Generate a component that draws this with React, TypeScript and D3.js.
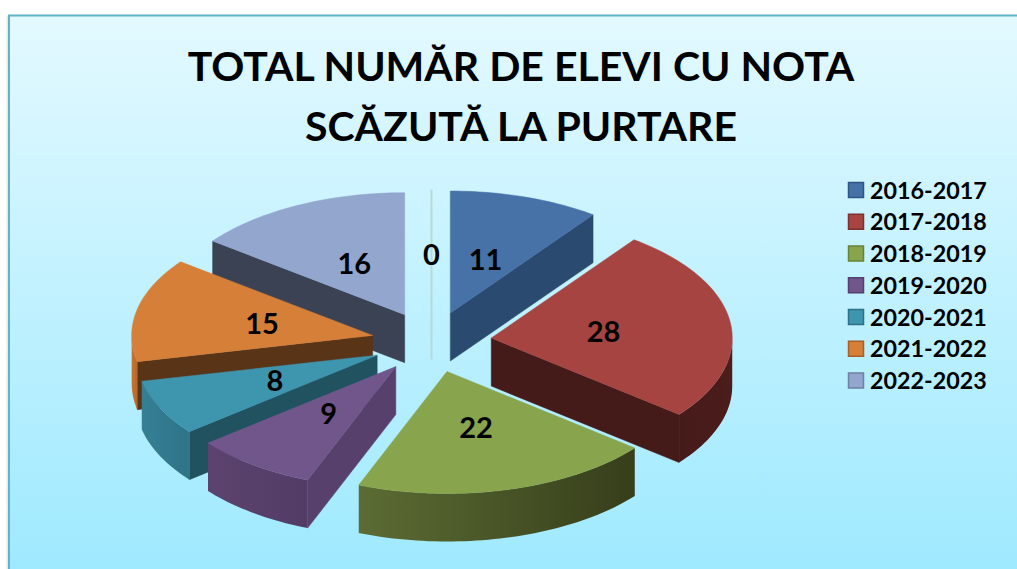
import React from "react";
import * as d3 from "d3";

const titleLines = ["TOTAL NUMĂR DE ELEVI CU NOTA", "SCĂZUTĂ LA PURTARE"];
const legendLabels = ["2016-2017", "2017-2018", "2018-2019", "2019-2020", "2020-2021", "2021-2022", "2022-2023"];
const values = [11, 28, 22, 9, 8, 15, 16, 0];
const topColors = ["#4672a8", "#a64442", "#88a44c", "#71568c", "#3e95ae", "#d67f38", "#92a6ce", "#b9d9d4"];
const wallColors = ["#2b4a70", "#451b19", "#38401c", "#58406c", "#205260", "#5a3417", "#3b4254", "#b9d9d4"];
const rimLeftColors = ["#2b4a70", "#451b19", "#5c6c34", "#5c436f", "#357f95", "#c8722f", "#3b4254", "#b9d9d4"];
const rimRightColors = ["#2b4a70", "#4b1d1b", "#363e1a", "#523c66", "#2f7488", "#b8682b", "#3b4254", "#b9d9d4"];
const legendEdge = ["#2f5585", "#7f2f2d", "#6a8238", "#55406e", "#2c7185", "#a85f26", "#6f7f9f"];
const paintOrder = [6, 7, 0, 5, 1, 4, 3, 2];

const W = 1017, H = 569;
const cx = 431.5, cy = 342, depth = 48, explode = 0.25, labelR = 0.47;
const xS = d3.scaleLinear().domain([-1, 1]).range([cx - 241, cx + 241]);
const yS = d3.scaleLinear().domain([-1, 1]).range([cy + 122, cy - 122]);
const legendY = d3.scaleLinear().domain([0, 6]).range([190, 380.5]);

const arcs = d3.pie<number>().sort(null).startAngle(0).endAngle(2 * Math.PI)(values);
const line = d3.line<[number, number]>();

type Pt = [number, number];

function geom(i: number) {
  const a = arcs[i];
  const mid = (a.startAngle + a.endAngle) / 2;
  const ox = Math.sin(mid) * explode, oy = Math.cos(mid) * explode;
  const P = (ang: number, r = 1, dz = 0): Pt => [
    xS(ox + Math.sin(ang) * r),
    yS(oy + Math.cos(ang) * r) + dz,
  ];
  const arcPts = (s: number, e: number, dz = 0): Pt[] => {
    const n = Math.max(2, Math.ceil((e - s) * 40));
    return d3.range(n + 1).map((k) => P(s + ((e - s) * k) / n, 1, dz));
  };
  return { a, mid, P, arcPts, apex: P(0, 0) };
}

function Slice({ i }: { i: number }) {
  const { a, P, arcPts, apex } = geom(i);
  const s = a.startAngle, e = a.endAngle;
  if (s === e) {
    const t = P(s);
    return (
      <path d={line([t, [t[0], apex[1] + depth]])!} stroke={topColors[i]} strokeWidth={2} fill="none" />
    );
  }
  const wall = (ang: number) => {
    const o = P(ang);
    return line([apex, o, [o[0], o[1] + depth], [apex[0], apex[1] + depth]])! + "Z";
  };
  const rs = Math.max(s, Math.PI / 2), re = Math.min(e, (3 * Math.PI) / 2);
  const rim =
    re > rs ? line([...arcPts(rs, re), ...arcPts(rs, re, depth).reverse()])! + "Z" : null;
  const top = line([apex, ...arcPts(s, e)])! + "Z";
  return (
    <g>
      {Math.sin(s) < 0 && <path d={wall(s)} fill={wallColors[i]} stroke={wallColors[i]} strokeWidth={0.5} />}
      {Math.sin(e) > 0 && <path d={wall(e)} fill={wallColors[i]} stroke={wallColors[i]} strokeWidth={0.5} />}
      {rim && <path d={rim} fill={`url(#rim${i})`} />}
      <path d={top} fill={topColors[i]} stroke={topColors[i]} strokeWidth={0.5} />
    </g>
  );
}

export default function App() {
  const font = "Lato, sans-serif";
  return (
    <svg width={W} height={H} viewBox={`0 0 ${W} ${H}`} style={{ position: "absolute", left: 0, top: 0, display: "block" }}>
      <defs>
        <linearGradient id="bg" x1="0" y1="0" x2="0" y2="1">
          <stop offset="0" stopColor="#e3f9ff" />
          <stop offset="1" stopColor="#9de9ff" />
        </linearGradient>
        {values.map((_, i) => (
          <linearGradient key={i} id={`rim${i}`} x1="0" y1="0" x2="1" y2="0">
            <stop offset="0" stopColor={rimLeftColors[i]} />
            <stop offset="1" stopColor={rimRightColors[i]} />
          </linearGradient>
        ))}
      </defs>
      <rect x={0} y={0} width={W} height={H} fill="#ffffff" />
      <rect x={6.5} y={16} width={W} height={H} fill="#d9d9d9" opacity={0.6} />
      <rect x={9} y={15.5} width={W} height={H} fill="url(#bg)" stroke="#5fb4ca" strokeWidth={2} />
      {titleLines.map((t, i) => (
        <text key={t} x={521} y={81 + i * 60} textAnchor="middle" fontFamily={font} fontWeight={700} fontSize={41} fill="#000">
          {t}
        </text>
      ))}
      {paintOrder.map((i) => (
        <Slice key={i} i={i} />
      ))}
      {arcs.map((a, i) => {
        const { mid, P } = geom(i);
        const [x, y] = P(mid, labelR);
        return (
          <text key={i} x={x} y={y + 11} textAnchor="middle" fontFamily={font} fontWeight={700} fontSize={29} fill="#000">
            {a.data}
          </text>
        );
      })}
      {legendLabels.map((t, i) => (
        <g key={t}>
          <rect x={848.5} y={legendY(i) - 7.5} width={15} height={15} fill={topColors[i]} stroke={legendEdge[i]} strokeWidth={1.5} />
          <text x={870} y={legendY(i) + 8.5} fontFamily={font} fontWeight={700} fontSize={23.3} fill="#000">
            {t}
          </text>
        </g>
      ))}
    </svg>
  );
}
